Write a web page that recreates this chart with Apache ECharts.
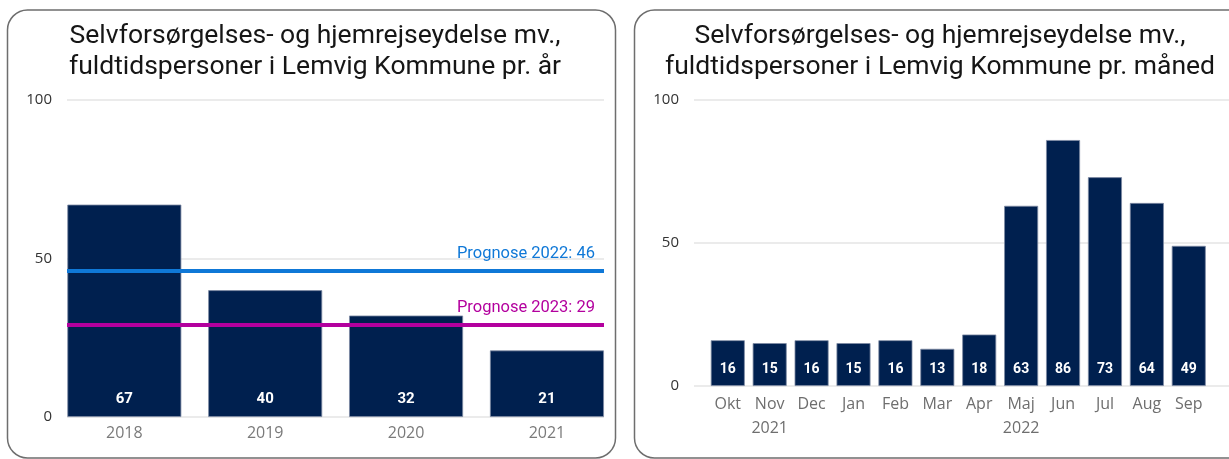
<!DOCTYPE html>
<html>
<head>
<meta charset="utf-8">
<script src="https://cdn.jsdelivr.net/npm/echarts@6/dist/echarts.min.js"></script>
<style>
    html, body { margin: 0; padding: 0; background: #fff; }
    #chart { width: 1229px; height: 459px; }
</style>
</head>
<body>
<div id="chart"></div>
<script>
// data - år (venstre)
const aarLabels = ['2018', '2019', '2020', '2021'];
const aarVaerdier = [67, 40, 32, 21];
const prognoseNavne = ['Prognose 2022', 'Prognose 2023'];
const prognoseVaerdier = [46, 29];

// data - måned (højre)
const maaneder = ['Okt', 'Nov', 'Dec', 'Jan', 'Feb', 'Mar', 'Apr', 'Maj', 'Jun', 'Jul', 'Aug', 'Sep'];
const aarUnderMaaned = ['', '2021', '', '', '', '', '', '2022', '', '', '', ''];
const maanedVaerdier = [16, 15, 16, 15, 16, 13, 18, 63, 86, 73, 64, 49];

const yMax = 100;
const yInterval = 50;

const navy = '#00204f';
const prognoseFarver = ['#0f78d7', '#b3009e'];
const titelFont = 'Roboto';
const aksFont = 'Open Sans';

let chart = echarts.init(document.getElementById('chart'));

function yAkse(gridIndex) {
    return {
        type: 'value',
        gridIndex: gridIndex,
        min: 0,
        max: yMax,
        interval: yInterval,
        axisLine: { show: false },
        axisTick: { show: false },
        axisLabel: { color: '#333', fontFamily: aksFont, fontSize: 15, margin: 15 },
        splitLine: { lineStyle: { color: '#ebebeb', width: 2 } }
    };
}

function titel(tekst, x) {
    return {
        text: tekst,
        left: x,
        top: 21,
        padding: 0,
        textAlign: 'center',
        textStyle: { fontFamily: titelFont, fontWeight: 'normal', fontSize: 26.5, lineHeight: 31, color: '#161616' }
    };
}

chart.setOption({
    backgroundColor: '#fff',
    animation: false,
    graphic: [
        {
            type: 'rect',
            shape: { x: 7.5, y: 10, width: 608, height: 448, r: 20 },
            style: { fill: 'none', stroke: '#6e6e6e', lineWidth: 1.5 }
        },
        {
            type: 'rect',
            shape: { x: 634.5, y: 10, width: 640, height: 448, r: 20 },
            style: { fill: 'none', stroke: '#6e6e6e', lineWidth: 1.5 }
        }
    ],
    title: [
        titel('Selvforsørgelses- og hjemrejseydelse mv.,\nfuldtidspersoner i Lemvig Kommune pr. år', 315),
        titel('Selvforsørgelses- og hjemrejseydelse mv.,\nfuldtidspersoner i Lemvig Kommune pr. måned', 940)
    ],
    grid: [
        { left: 67, width: 537, top: 100, height: 317 },
        { left: 694, width: 542, top: 100, height: 286 }
    ],
    xAxis: [
        {
            type: 'value',
            gridIndex: 0,
            min: -0.407,
            max: 3.405,
            axisLine: { show: false },
            axisTick: { show: false },
            splitLine: { show: false },
            axisLabel: {
                customValues: aarLabels.map((a, i) => i),
                formatter: v => aarLabels[v],
                color: '#7a7a7a',
                fontFamily: aksFont,
                fontSize: 16,
                margin: 8
            }
        },
        {
            type: 'value',
            gridIndex: 1,
            min: -0.806,
            max: 11.96,
            axisLine: { show: false },
            axisTick: { show: false },
            splitLine: { show: false },
            axisLabel: {
                customValues: maaneder.map((m, i) => i),
                formatter: v => aarUnderMaaned[v] ? maaneder[v] + '\n' + aarUnderMaaned[v] : maaneder[v],
                color: '#6e6e6e',
                fontFamily: aksFont,
                fontSize: 16,
                lineHeight: 24,
                margin: 6
            }
        }
    ],
    yAxis: [yAkse(0), yAkse(1)],
    series: [
        {
            type: 'bar',
            xAxisIndex: 0,
            yAxisIndex: 0,
            barWidth: 114,
            data: aarVaerdier.map((v, i) => [i, v]),
            itemStyle: { color: navy, borderColor: '#7d8aa3', borderWidth: 0.8 },
            label: {
                show: true,
                position: 'insideBottom',
                distance: 10,
                formatter: p => p.value[1],
                color: '#fff',
                fontFamily: titelFont,
                fontWeight: 'bold',
                fontSize: 15
            },
            markLine: {
                silent: true,
                symbol: 'none',
                lineStyle: { type: 'solid', width: 4 },
                data: prognoseVaerdier.map((v, i) => ({
                    yAxis: v,
                    lineStyle: { color: prognoseFarver[i], type: 'solid', width: 4 },
                    label: {
                        position: 'insideEndTop',
                        distance: [9, 9],
                        formatter: prognoseNavne[i] + ': ' + v,
                        color: prognoseFarver[i],
                        fontFamily: titelFont,
                        fontSize: 16.5
                    }
                }))
            }
        },
        {
            type: 'bar',
            xAxisIndex: 1,
            yAxisIndex: 1,
            barWidth: 34,
            data: maanedVaerdier.map((v, i) => [i, v]),
            itemStyle: { color: navy, borderColor: '#7d8aa3', borderWidth: 0.8 },
            label: {
                show: true,
                position: 'insideBottom',
                distance: 10,
                formatter: p => p.value[1],
                color: '#fff',
                fontFamily: titelFont,
                fontWeight: 'bold',
                fontSize: 14
            }
        }
    ]
});
</script>
</body>
</html>
